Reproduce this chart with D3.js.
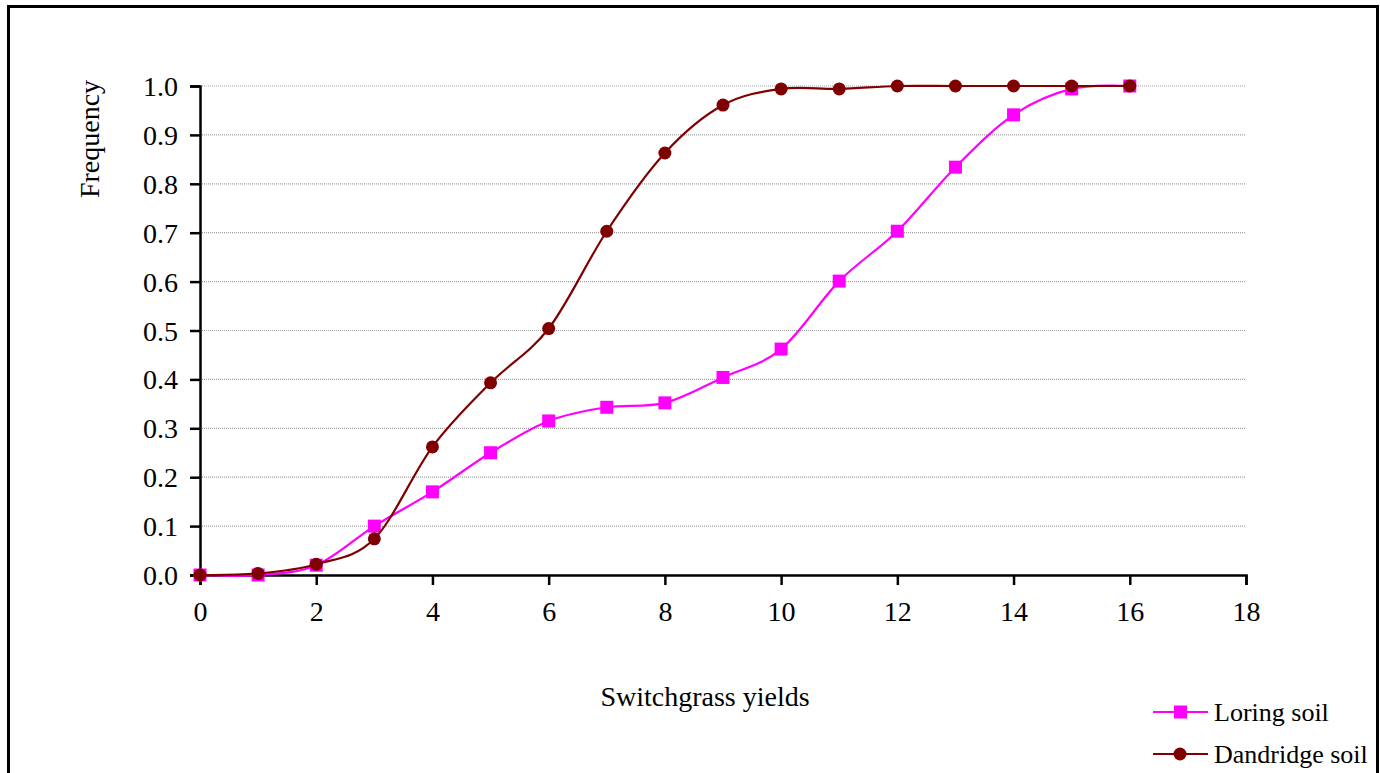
<!DOCTYPE html>
<meta charset="utf-8">
<script src="https://d3js.org/d3.v7.min.js"></script>
<style>
  body { margin: 0; background: #fff; }
  text { font-family: "Liberation Serif", "Times New Roman", serif; fill: #000; }
</style>
<div id="chart"></div>
<script>

    // switchgrass yield classes (x) and cumulative frequencies
    var yields = [0, 1, 2, 3, 4, 5, 6, 7, 8, 9, 10, 11, 12, 13, 14, 15, 16];
    var loring = [0, 0, 0.02, 0.10, 0.17, 0.25, 0.315, 0.343, 0.352, 0.404, 0.462, 0.601, 0.703, 0.834, 0.941, 0.994, 1.0];
    var dandridge = [0, 0.003, 0.022, 0.074, 0.262, 0.393, 0.504, 0.703, 0.863, 0.961, 0.994, 0.994, 1.0, 1.0, 1.0, 1.0, 1.0];
    var xTicks = [0, 2, 4, 6, 8, 10, 12, 14, 16, 18];
    var yTicks = [0, 0.1, 0.2, 0.3, 0.4, 0.5, 0.6, 0.7, 0.8, 0.9, 1.0];
    var seriesNames = ["Loring soil", "Dandridge soil"];

    var margin = {top: 86, right: 134, bottom: 198, left: 200},
        width = 1380 - margin.left - margin.right,
        height = 773 - margin.top - margin.bottom;

    var root = d3.select("#chart")
      .append("svg")
        .attr("width", 1380)
        .attr("height", 773);

    // outer frame
    root.append("rect")
        .attr("x", 8.5)
        .attr("y", 6.5)
        .attr("width", 1369)
        .attr("height", 800)
        .attr("fill", "none")
        .attr("stroke", "#000")
        .attr("stroke-width", 3);

    var svg = root.append("g")
        .attr("transform", "translate(" + margin.left + "," + margin.top + ")");

    var x = d3.scaleLinear()
      .domain([0, 18])
      .range([0, width]);

    var y = d3.scaleLinear()
      .domain([0, 1])
      .range([height, 0]);

    // gridlines
    svg.append("g")
      .selectAll("line")
      .data(yTicks.slice(1))
      .enter()
      .append("line")
        .attr("x1", 0)
        .attr("x2", width)
        .attr("y1", function(d) { return y(d); })
        .attr("y2", function(d) { return y(d); })
        .attr("stroke", "#a0a0a0")
        .attr("stroke-width", 1.2)
        .attr("stroke-dasharray", "1,1");

    var xAxis = svg.append("g")
      .attr("transform", "translate(0," + height + ")")
      .call(d3.axisBottom(x).tickValues(xTicks).tickSize(10).tickPadding(16).tickFormat(d3.format("d")));

    var yAxis = svg.append("g")
      .call(d3.axisLeft(y).tickValues(yTicks).tickSize(10).tickPadding(12).tickFormat(d3.format(".1f")));

    [xAxis, yAxis].forEach(function(a) {
      a.attr("font-family", null).attr("font-size", null);
      a.select(".domain").attr("stroke", "#000").attr("stroke-width", 2.5);
      a.selectAll(".tick line").attr("stroke", "#000").attr("stroke-width", 2.5);
      a.selectAll(".tick text")
        .style("font-family", "'Liberation Serif', serif")
        .style("font-size", "28px")
        .attr("fill", "#000");
    });
    yAxis.selectAll(".tick text").attr("dy", "0.34em");

    var line = d3.line()
      .x(function(d) { return x(d[0]); })
      .y(function(d) { return y(d[1]); })
      .curve(d3.curveCardinal.tension(0));

    var loringPts = yields.map(function(v, i) { return [v, loring[i]]; });
    var dandPts = yields.map(function(v, i) { return [v, dandridge[i]]; });

    svg.append("path")
      .datum(loringPts)
      .attr("fill", "none")
      .attr("stroke", "#ff00ff")
      .attr("stroke-width", 2.2)
      .attr("d", line);

    svg.append("g")
      .selectAll("rect")
      .data(loringPts)
      .enter()
      .append("rect")
        .attr("x", function(d) { return x(d[0]) - 6.5; })
        .attr("y", function(d) { return y(d[1]) - 6.5; })
        .attr("width", 13)
        .attr("height", 13)
        .attr("fill", "#ff00ff");

    svg.append("path")
      .datum(dandPts)
      .attr("fill", "none")
      .attr("stroke", "#800000")
      .attr("stroke-width", 2.2)
      .attr("d", line);

    svg.append("g")
      .selectAll("circle")
      .data(dandPts)
      .enter()
      .append("circle")
        .attr("cx", function(d) { return x(d[0]); })
        .attr("cy", function(d) { return y(d[1]); })
        .attr("r", 6.5)
        .attr("fill", "#800000");

    // axis titles
    root.append("text")
        .attr("text-anchor", "middle")
        .attr("x", 705)
        .attr("y", 706)
        .style("font-size", "28px")
        .text("Switchgrass yields");

    root.append("text")
        .attr("text-anchor", "middle")
        .attr("transform", "translate(99,139) rotate(-90)")
        .style("font-size", "28px")
        .text("Frequency");

    // legend
    var legend = root.append("g");
    var colors = ["#ff00ff", "#800000"];
    seriesNames.forEach(function(name, i) {
      var ly = 712 + i * 42;
      legend.append("line")
        .attr("x1", 1153).attr("x2", 1208)
        .attr("y1", ly).attr("y2", ly)
        .attr("stroke", colors[i])
        .attr("stroke-width", 2.2);
      if (i === 0) {
        legend.append("rect")
          .attr("x", 1174).attr("y", ly - 6.5)
          .attr("width", 13).attr("height", 13)
          .attr("fill", colors[i]);
      } else {
        legend.append("circle")
          .attr("cx", 1180).attr("cy", ly)
          .attr("r", 6.5)
          .attr("fill", colors[i]);
      }
      legend.append("text")
        .attr("x", 1214)
        .attr("y", ly + 9)
        .style("font-size", "26px")
        .text(name);
    });

</script>
